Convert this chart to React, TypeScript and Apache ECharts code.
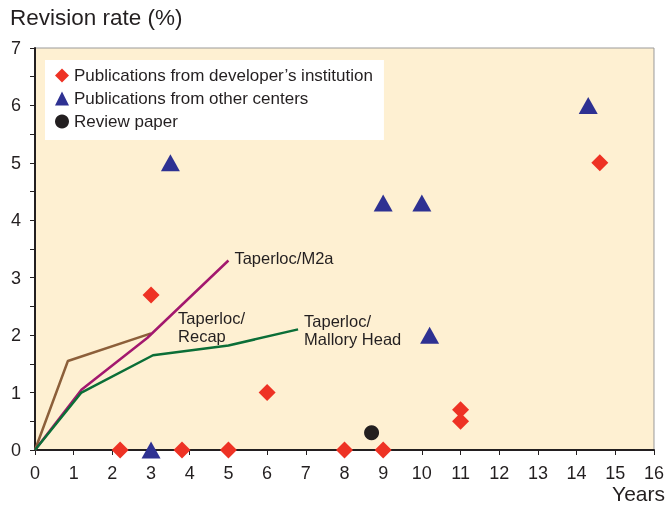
import React, { useEffect, useRef } from "react";
import * as echarts from "echarts";

const developerPoints: [number, number][] = [
  [2.2, 0], [3, 2.7], [3.8, 0], [5, 0], [6, 1], [8, 0], [9, 0], [11, 0.7], [11, 0.5], [14.6, 5],
];
const otherCenterPoints: [number, number][] = [
  [3, 0], [3.5, 5], [9, 4.3], [10, 4.3], [10.2, 2], [14.3, 6],
];
const reviewPoints: [number, number][] = [[8.7, 0.3]];

const recapLine: [number, number][] = [[0, 0], [0.85, 1.55], [3, 2.03]];
const m2aLine: [number, number][] = [[0, 0], [1.2, 1.05], [2.9, 1.95], [5, 3.3]];
const malloryLine: [number, number][] = [[0, 0], [1.2, 1.0], [3.05, 1.65], [5, 1.82], [6.8, 2.1]];

const legendNames = [
  "Publications from developer\u2019s institution",
  "Publications from other centers",
  "Review paper",
];

const FONT = "'Liberation Sans', Arial, Helvetica, sans-serif";
const INK = "#231F20";

export default function App() {
  const ref = useRef<HTMLDivElement>(null);
  useEffect(() => {
    if (!ref.current) return;
    const chart = echarts.init(ref.current, null, { renderer: "svg" });
    const lineLabel = (text: string, offset: number[]) => ({
      show: true,
      formatter: text,
      color: INK,
      fontFamily: FONT,
      fontSize: 16.5,
      lineHeight: 18,
      distance: 6,
      offset,
      align: "left",
      verticalAlign: "middle",
    });
    chart.setOption({
      animation: false,
      textStyle: { fontFamily: FONT },
      title: [
        {
          text: "Revision rate (%)",
          left: 5,
          top: 1,
          textStyle: { fontSize: 22.5, fontWeight: "normal", color: INK, fontFamily: FONT },
        },
        {
          text: "Years",
          right: 2,
          top: 483,
          padding: 0,
          textStyle: { fontSize: 21, lineHeight: 21, fontWeight: "normal", color: INK, fontFamily: FONT },
        },
      ],
      grid: {
        left: 35,
        top: 48,
        width: 620,
        height: 402,
        show: true,
        backgroundColor: "#FEF0D2",
        borderColor: "#9a9a9a",
        borderWidth: 1,
      },
      legend: {
        orient: "vertical",
        left: 45,
        top: 60,
        backgroundColor: "#ffffff",
        padding: [7, 11, 10, 10],
        itemGap: 6,
        itemWidth: 14,
        itemHeight: 14,
        textStyle: { fontSize: 17, color: INK, fontFamily: FONT },
        data: [
          { name: legendNames[0], icon: "diamond" },
          { name: legendNames[1], icon: "triangle" },
          { name: legendNames[2], icon: "circle" },
        ],
      },
      xAxis: {
        type: "value",
        min: 0,
        max: 16,
        interval: 1,
        splitLine: { show: false },
        axisLine: { show: true, onZero: false, lineStyle: { color: INK, width: 2 } },
        axisTick: { show: true, length: 5, lineStyle: { color: INK, width: 1 } },
        axisLabel: { fontSize: 18, color: INK, margin: 14, fontFamily: FONT },
      },
      yAxis: {
        type: "value",
        min: 0,
        max: 7,
        interval: 0.5,
        splitLine: { show: false },
        axisLine: { show: true, onZero: false, lineStyle: { color: INK, width: 2 } },
        axisTick: { show: true, length: 5, lineStyle: { color: INK, width: 1 } },
        axisLabel: {
          fontSize: 18,
          color: INK,
          margin: 14,
          fontFamily: FONT,
          formatter: (v: number) => (Number.isInteger(v) ? String(v) : ""),
        },
      },
      series: [
        {
          type: "line",
          name: "Taperloc/Recap",
          data: recapLine,
          symbol: "none",
          lineStyle: { color: "#8C5F3A", width: 2.5 },
          endLabel: lineLabel("Taperloc/\nRecap", [21, -6]),
          z: 3,
        },
        {
          type: "line",
          name: "Taperloc/M2a",
          data: m2aLine,
          symbol: "none",
          lineStyle: { color: "#A3186E", width: 2.5 },
          endLabel: lineLabel("Taperloc/M2a", [0, -2]),
          z: 3,
        },
        {
          type: "line",
          name: "Taperloc/Mallory Head",
          data: malloryLine,
          symbol: "none",
          lineStyle: { color: "#0B6E37", width: 2.5 },
          endLabel: lineLabel("Taperloc/\nMallory Head", [0, 1]),
          z: 3,
        },
        {
          type: "scatter",
          name: legendNames[0],
          data: developerPoints,
          symbol: "diamond",
          symbolSize: 17,
          clip: false,
          itemStyle: { color: "#EE3224", opacity: 1 },
          z: 4,
        },
        {
          type: "scatter",
          name: legendNames[1],
          data: otherCenterPoints,
          symbol: "triangle",
          symbolSize: [19, 17],
          clip: false,
          itemStyle: { color: "#2E3192", opacity: 1 },
          z: 4,
        },
        {
          type: "scatter",
          name: legendNames[2],
          data: reviewPoints,
          symbol: "circle",
          symbolSize: 15,
          clip: false,
          itemStyle: { color: INK, opacity: 1 },
          z: 4,
        },
      ],
    });
    return () => chart.dispose();
  }, []);
  return (
    <div
      ref={ref}
      style={{ width: 667, height: 506, position: "fixed", left: 0, top: 0 }}
    />
  );
}
